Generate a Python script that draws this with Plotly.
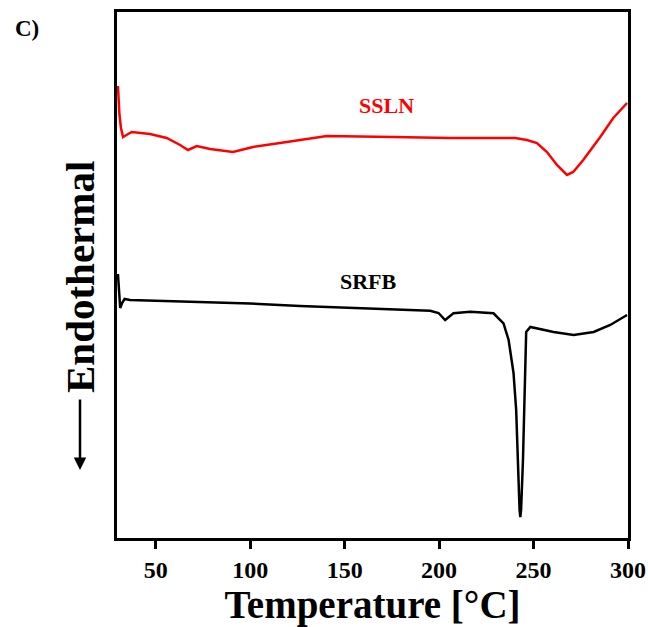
import plotly.graph_objects as go

# SSLN (red) DSC curve: temperature [°C] and heat flow (arbitrary units, up = exo)
ssln_T = [30.0, 30.8, 31.6, 32.7, 34.5, 37.3, 47.0, 55.8, 62.9, 67.1, 71.7, 78.8, 90.9,
          101.5, 115.8, 130.0, 140.6, 175.7, 205.9, 240.3, 246.5, 251.8, 257.1, 262.4,
          267.7, 271.0, 276.3, 285.3, 292.2, 299.5]
ssln_H = [452, 423, 410, 401, 403, 406, 404, 400, 393, 388, 392, 389, 386,
          391, 395, 399, 402, 401, 400, 400, 398, 395, 386, 373,
          363, 366, 378, 401, 420, 435]

# SRFB (black) DSC curve
srfb_T = [30.0, 30.6, 31.2, 32.2, 33.5, 36.4, 73.5, 99.9, 126.4, 149.2, 174.1, 195.3,
          199.7, 203.2, 207.6, 216.5, 228.8, 234.1, 236.8, 239.4, 240.8, 241.5, 242.6,
          243.0, 243.4, 244.4, 245.1, 245.6, 246.1, 248.3, 253.5, 260.6, 271.2, 281.8,
          290.6, 299.5]
srfb_H = [264, 248, 230, 235, 239, 238, 236, 234.5, 232, 230.5, 229, 227.3,
          225, 218, 224.7, 226.3, 224.7, 214.7, 198, 165, 128, 85, 28,
          21, 28, 78, 131, 185, 206, 211, 209, 206, 203, 206,
          213, 223]

x_ticks = [50, 100, 150, 200, 250, 300]

serif = "Liberation Serif, Times New Roman, serif"

fig = go.Figure()
fig.add_trace(go.Scatter(x=ssln_T, y=ssln_H, mode="lines",
                         line=dict(color="#ff0000", width=2.5), name="SSLN"))
fig.add_trace(go.Scatter(x=srfb_T, y=srfb_H, mode="lines",
                         line=dict(color="#000000", width=2.5), name="SRFB"))

fig.update_layout(
    width=648, height=627,
    margin=dict(l=117, r=20, t=12, b=89, autoexpand=False),
    paper_bgcolor="white", plot_bgcolor="white",
    showlegend=False,
    font=dict(family=serif, color="black"),
)
fig.update_xaxes(
    range=[29.5, 300], tickvals=x_ticks, ticktext=[str(v) for v in x_ticks],
    showline=True, linecolor="black", linewidth=3, mirror=True,
    ticks="outside", ticklen=8, tickwidth=3, tickcolor="black",
    showgrid=False, zeroline=False, automargin=False,
    tickfont=dict(family=serif, size=24, color="black", weight="bold"),
    title=dict(text="Temperature [°C]", standoff=8,
               font=dict(family=serif, size=39, color="black", weight="bold")),
)
fig.update_yaxes(
    range=[0, 526], showticklabels=False, ticks="", automargin=False,
    showline=True, linecolor="black", linewidth=3, mirror=True,
    showgrid=False, zeroline=False,
)

fig.add_annotation(text="<b>SSLN</b>", x=(386 - 117) / 511, y=(538 - 106) / 526,
                   xref="paper", yref="paper", xanchor="center", yanchor="middle",
                   showarrow=False, font=dict(family=serif, size=22, color="#ff0000"))
fig.add_annotation(text="<b>SRFB</b>", x=(368 - 117) / 511, y=(538 - 281) / 526,
                   xref="paper", yref="paper", xanchor="center", yanchor="middle",
                   showarrow=False, font=dict(family=serif, size=22, color="black"))
fig.add_annotation(text="<b>C)</b>", x=(27 - 117) / 511, y=(538 - 28) / 526,
                   xref="paper", yref="paper", xanchor="center", yanchor="middle",
                   showarrow=False, font=dict(family=serif, size=23, color="black"))
fig.add_annotation(text="<b>Endothermal</b>", x=(80 - 117) / 511, y=(538 - 277) / 526,
                   xref="paper", yref="paper", textangle=-90,
                   xanchor="center", yanchor="middle",
                   showarrow=False, font=dict(family=serif, size=41, color="black"))
fig.add_annotation(text="", x=(80 - 117) / 511, y=(538 - 470) / 526,
                   xref="paper", yref="paper", showarrow=True,
                   ax=0, ay=-72, arrowhead=2, arrowsize=1, arrowwidth=2.5,
                   arrowcolor="black")

fig.write_html("out.html")
